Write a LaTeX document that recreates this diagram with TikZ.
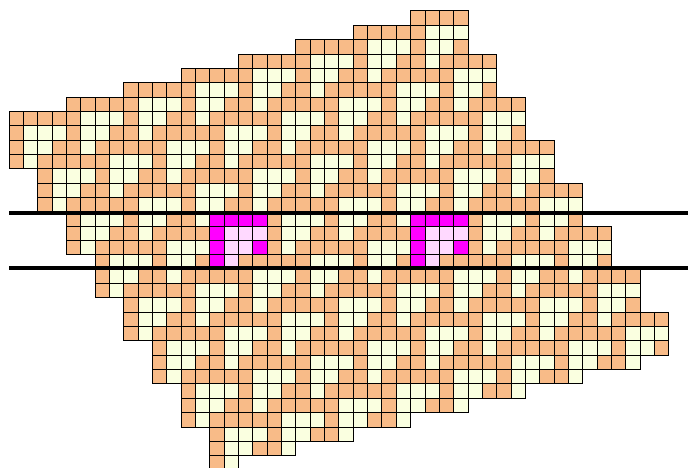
\documentclass[tikz,border=0pt]{standalone}
\begin{document}
\begin{tikzpicture}[x=1pt,y=1pt]
\definecolor{cOr}{RGB}{248,187,136}
\definecolor{cCr}{RGB}{250,255,224}
\definecolor{cMa}{RGB}{255,0,255}
\definecolor{cPk}{RGB}{255,217,255}
\tikzset{cell/.style={draw=black, line width=1pt},
         band/.style={draw=black, line width=4pt}}
\useasboundingbox (0,0) rectangle (688,-468);
\clip (0,0) rectangle (688,-468);
\def\pitch{14.345}
\def\tile{{1,1,1,1,1,0,0,0,1,0,0,1,1,0,
1,0,0,0,1,0,0,1,1,0,1,1,1,1,
1,0,0,1,1,0,1,1,1,1,1,0,0,0,
1,0,1,1,1,1,1,0,0,0,1,0,0,1,
1,1,1,0,0,0,1,0,0,1,1,0,1,1,
0,0,1,0,0,1,1,0,1,1,1,1,1,0,
0,1,1,0,1,1,1,1,1,0,0,0,1,0}}
\foreach \r/\a/\b in {0/28/31,1/24/31,2/20/31,3/16/33,4/12/33,5/8/33,6/4/35,7/0/35,8/0/35,9/0/37,10/0/37,11/2/37,12/2/39,13/2/39,14/4/39,15/4/41,16/4/41,17/6/41,18/6/43,19/6/43,20/8/43,21/8/45,22/8/45,23/10/45,24/10/43,25/10/39,26/12/35,27/12/31,28/12/27,29/14/23,30/14/19,31/14/15}{
  \foreach \c in {\a,...,\b}{
    \pgfmathtruncatemacro\idx{mod(\r,7)*14+mod(\c,14)}
    \pgfmathtruncatemacro\v{\tile[\idx]}
    \ifnum\v=1 \def\fc{cOr}\else\def\fc{cCr}\fi
    \draw[cell, fill=\fc] ({9+\pitch*\c},{-11-\pitch*\r}) rectangle ++(\pitch,-\pitch);
  }
}
\foreach \oc in {14,28}{
  \foreach \dr/\dc/\col in {0/0/cMa,0/1/cMa,0/2/cMa,0/3/cMa,1/0/cMa,1/1/cPk,1/2/cPk,1/3/cPk,2/0/cMa,2/1/cPk,2/2/cPk,2/3/cMa,3/0/cMa,3/1/cPk}{
    \draw[cell, fill=\col] ({9+\pitch*(\oc+\dc)},{-11-\pitch*(14+\dr)}) rectangle ++(\pitch,-\pitch);
  }
}
\coordinate (la) at (9,-213);
\coordinate (lb) at (688,-213);
\coordinate (lc) at (9,-268);
\coordinate (ld) at (688,-268);
\draw[band] (la) -- (lb);
\draw[band] (lc) -- (ld);
\end{tikzpicture}
\end{document}
